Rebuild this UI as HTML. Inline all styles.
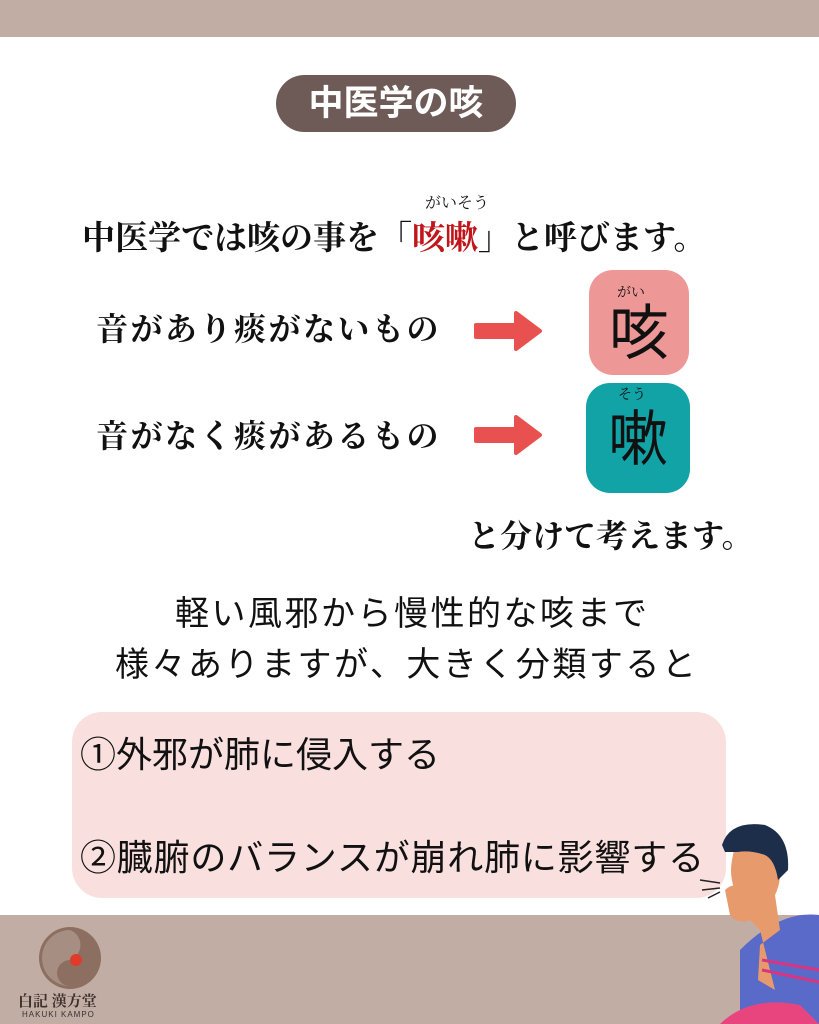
<!DOCTYPE html>
<html><head><meta charset="utf-8"><style>
*{margin:0;padding:0;box-sizing:border-box}
body{width:819px;height:1024px;position:relative;background:#fff;overflow:hidden;font-family:"Liberation Sans","Noto Sans CJK JP",sans-serif;color:#111}
.a{position:absolute;white-space:nowrap}
.serif{font-family:"Liberation Serif","Noto Serif CJK JP",serif;font-weight:bold}
</style></head><body>
<div class="a" style="left:0;top:0;width:819px;height:37px;background:#c2ada4"></div>
<div class="a" style="left:0;top:915px;width:819px;height:109px;background:#c2ada4"></div>
<div class="a" style="left:276px;top:75px;width:240px;height:57px;background:#6e5b57;border-radius:29px;color:#fff;font-size:35px;font-weight:bold;text-align:center;line-height:57px">中医学の咳</div>

<div class="a serif" style="left:425px;top:190px;font-size:16px;font-weight:normal">がいそう</div>
<div class="a serif" style="left:82px;top:216px;font-size:33px;line-height:46px">中医学では咳の事を「<span style="color:#c0151a">咳嗽</span>」と呼びます。</div>

<div class="a serif" style="left:96px;top:307px;font-size:32px;line-height:44px;letter-spacing:2.5px">音があり痰がないもの</div>
<div class="a serif" style="left:96px;top:414px;font-size:32px;line-height:44px;letter-spacing:2.5px">音がなく痰があるもの</div>

<svg class="a" style="left:470px;top:308px" width="76" height="46"><path d="M6 17h40V5l24 18-24 18V29H6z" fill="#e95151" stroke="#e95151" stroke-width="4" stroke-linejoin="round"/></svg>
<svg class="a" style="left:470px;top:412px" width="76" height="46"><path d="M6 17h40V5l24 18-24 18V29H6z" fill="#e95151" stroke="#e95151" stroke-width="4" stroke-linejoin="round"/></svg>

<div class="a" style="left:589px;top:270px;width:100px;height:105px;background:#ee9797;border-radius:24px"></div>
<div class="a serif" style="left:617px;top:282px;font-size:14px;font-weight:normal">がい</div>
<div class="a" style="left:589px;top:296px;width:100px;text-align:center;font-size:60px;line-height:76px">咳</div>
<div class="a" style="left:586px;top:383px;width:104px;height:110px;background:#12a3a6;border-radius:24px"></div>
<div class="a serif" style="left:618px;top:384px;font-size:14px;font-weight:normal">そう</div>
<div class="a" style="left:586px;top:400px;width:104px;text-align:center;font-size:60px;line-height:80px">嗽</div>

<div class="a serif" style="left:468px;top:514px;font-size:32px;line-height:44px">と分けて考えます。</div>

<div class="a" style="left:175px;top:592px;font-size:34px;line-height:44px;letter-spacing:2.5px">軽い風邪から慢性的な咳まで</div>
<div class="a" style="left:115px;top:642px;font-size:34px;line-height:46px;letter-spacing:2.5px">様々ありますが、大きく分類すると</div>

<div class="a" style="left:72px;top:712px;width:654px;height:186px;background:#f9e0df;border-radius:30px"></div>
<div class="a" style="left:80px;top:731px;font-size:36px;line-height:48px">①外邪が肺に侵入する</div>
<div class="a" style="left:80px;top:834px;font-size:36px;line-height:48px;letter-spacing:0.8px">②臓腑のバランスが崩れ肺に影響する</div>

<!-- logo -->
<svg class="a" style="left:30px;top:918px" width="80" height="80">
<circle cx="40" cy="40" r="31" fill="#8c6f60"/>
<path d="M40 12a16 16 0 0 1 0 30a12 12 0 0 0 0 26a28 28 0 0 1 0-56z" fill="#c2ada4" opacity="0.5"/>
<circle cx="46" cy="42" r="6" fill="#e23a2a"/>
</svg>
<div class="a" style="left:18px;top:990px;font-size:15px;font-weight:bold;color:#3a2f2a;font-family:'Liberation Serif','Noto Serif CJK JP',serif">白記 漢方堂</div>
<div class="a" style="left:22px;top:1010px;font-size:8px;letter-spacing:1px;color:#333">HAKUKI KAMPO</div>

<!-- person -->
<svg class="a" style="left:680px;top:820px" width="139" height="204">
<path d="M60 130 Q100 90 139 95 L139 204 L60 204z" fill="#5a6ac8"/>
<path d="M40 204 Q70 175 120 185 L139 204z" fill="#e8457f"/>
<path d="M75 50 L95 75 L100 110 L80 125 L78 160 L95 170 L80 110 L60 90z" fill="#e79a6b"/>
<path d="M55 25 Q75 18 95 30 Q105 55 95 75 Q80 90 60 82 Q48 60 52 40z" fill="#e79a6b"/>
<path d="M42 25 Q50 0 85 5 Q110 15 108 50 L98 60 Q95 40 85 35 Q70 30 58 32 L45 32z" fill="#1d2e4b"/>
<path d="M45 70 Q55 60 68 72 L70 100 Q58 105 50 95z" fill="#e79a6b"/>
<path d="M82 140 L139 150 M82 150 L139 162" stroke="#d9347f" stroke-width="3"/>
<path d="M20 60 L40 63 M22 70 L40 68 M28 78 L40 72" stroke="#222" stroke-width="1.5"/>
</svg>
</body></html>
